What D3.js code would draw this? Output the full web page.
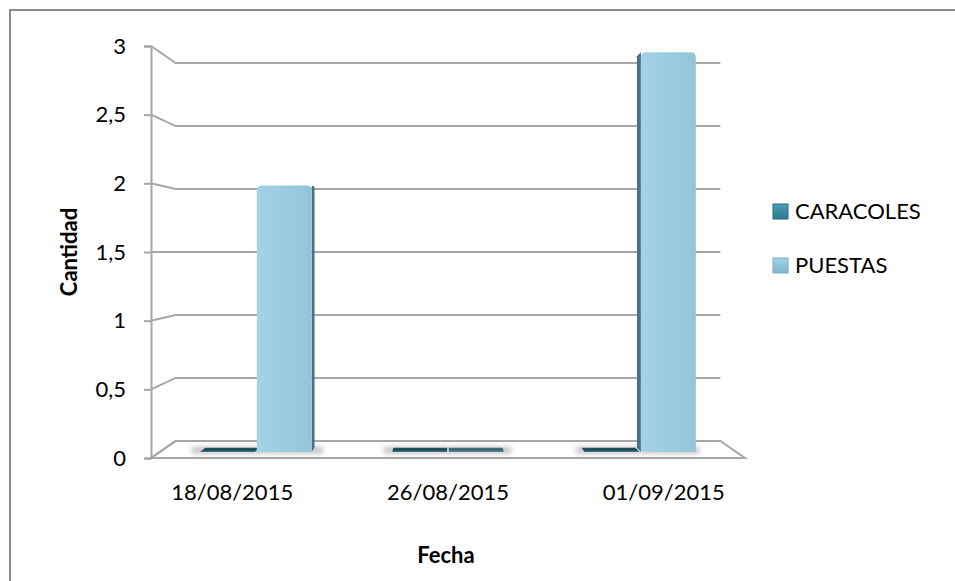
<!DOCTYPE html>
<html>
<head>
<meta charset="utf-8">
<script src="https://cdnjs.cloudflare.com/ajax/libs/d3/7.8.5/d3.min.js"></script>
<style>
  body { margin: 0; background: #fff; }
  svg text { font-family: Lato, "Open Sans", sans-serif; fill: #000; }
</style>
</head>
<body>
<div id="chart"></div>
<script>
// chart data
var categories = ["18/08/2015", "26/08/2015", "01/09/2015"];
var seriesNames = ["CARACOLES", "PUESTAS"];
var caracoles = [0, 0, 0];
var puestas = [2, 0, 3];
var yTicks = [0, 0.5, 1, 1.5, 2, 2.5, 3];

var width = 955, height = 581;

// perspective centre and plane factors (Excel 3D look)
var cx = 448, cy = 252;
var kBack = 0.917, kBarFront = 0.97, kBarBack = 0.95, kLabel = 1.09;

function proj(x, y, k) {
  return [cx + (x - cx) * k, cy + (y - cy) * k];
}

var svg = d3.select("#chart").append("svg")
  .attr("width", width)
  .attr("height", height);

var defs = svg.append("defs");
var blur = defs.append("filter").attr("id", "shadow")
  .attr("x", "-20%").attr("y", "-200%").attr("width", "140%").attr("height", "500%");
blur.append("feGaussianBlur").attr("stdDeviation", 2.5);

var gFront = defs.append("linearGradient").attr("id", "puestasFront")
  .attr("x1", 0).attr("x2", 1).attr("y1", 0).attr("y2", 0);
gFront.append("stop").attr("offset", "0%").attr("stop-color", "#a4d3e6");
gFront.append("stop").attr("offset", "100%").attr("stop-color", "#93c4d9");

var gLeg1 = defs.append("linearGradient").attr("id", "leg1")
  .attr("x1", 0).attr("x2", 0).attr("y1", 0).attr("y2", 1);
gLeg1.append("stop").attr("offset", "0%").attr("stop-color", "#4aa0b8");
gLeg1.append("stop").attr("offset", "100%").attr("stop-color", "#2a7890");
var gLeg2 = defs.append("linearGradient").attr("id", "leg2")
  .attr("x1", 0).attr("x2", 0).attr("y1", 0).attr("y2", 1);
gLeg2.append("stop").attr("offset", "0%").attr("stop-color", "#a2d2e4");
gLeg2.append("stop").attr("offset", "100%").attr("stop-color", "#7fb6ca");

var frontColor = { "CARACOLES": "#2e7e94", "PUESTAS": "url(#puestasFront)" };
var sideColor = { "CARACOLES": "#1d4c5a", "PUESTAS": "#4a7382" };
var topColor = { "CARACOLES": "#1f5060", "PUESTAS": "#3f6a79" };

// outer frame (top and left edges only are visible)
svg.append("path")
  .attr("d", "M10," + height + "V10H" + width)
  .attr("fill", "none")
  .attr("stroke", "#8c8c8c")
  .attr("stroke-width", 2);

// scales on the front plane
var x = d3.scaleBand().domain(categories).range([151, 745]);
var y = d3.scaleLinear().domain([0, 3]).range([458, 46]);
var groupW = 115;
var xSub = d3.scaleBand().domain(seriesNames).range([0, groupW]).paddingInner(0.03);
var fmt = d3.formatLocale({ decimal: ",", thousands: ".", grouping: [3], currency: ["", ""] }).format(".1~f");

var x0 = x.range()[0], x1 = x.range()[1];

// floor
var floorPts = [proj(x0, y(0), 1), proj(x1, y(0), 1), proj(x1, y(0), kBack), proj(x0, y(0), kBack)];
svg.append("polygon")
  .attr("points", floorPts.map(function(p) { return p.join(","); }).join(" "))
  .attr("fill", "#fff")
  .attr("stroke", "#a6a6a6")
  .attr("stroke-width", 2);

// gridlines on the back wall and side wall
var grid = svg.append("g").attr("class", "grid");
yTicks.forEach(function(v) {
  var a = [x0, y(v)];
  var b = proj(x0, y(v), kBack);
  var c = proj(x1, y(v), kBack);
  grid.append("path")
    .attr("d", "M" + a + "L" + b + "L" + c)
    .attr("fill", "none")
    .attr("stroke", "#a6a6a6")
    .attr("stroke-width", 2);
});

// value axis
var yAxis = svg.append("g").attr("transform", "translate(" + x0 + ",0)")
  .call(d3.axisLeft(y).tickValues(yTicks).tickSize(7).tickPadding(18).tickFormat(fmt));
yAxis.select(".domain").attr("stroke", "#a6a6a6").attr("stroke-width", 2);
yAxis.selectAll(".tick line").attr("stroke", "#a6a6a6").attr("stroke-width", 2);
yAxis.selectAll(".tick text")
  .style("font-size", "22px")
  .attr("fill", "#000");

// bar records
var bars = [];
categories.forEach(function(cat, i) {
  var vals = [caracoles[i], puestas[i]];
  seriesNames.forEach(function(s, j) {
    var bx0 = x(cat) + (x.bandwidth() - groupW) / 2 + xSub(s);
    bars.push({ cat: cat, series: s, value: vals[j], bx0: bx0, bx1: bx0 + xSub.bandwidth() });
  });
});

// floor shadows under each group
var shadows = svg.append("g");
categories.forEach(function(cat) {
  var gx0 = x(cat) + (x.bandwidth() - groupW) / 2 - 9;
  var gx1 = gx0 + groupW + 18;
  var p0 = proj(gx0, y(0), kBarFront), p1 = proj(gx1, y(0), kBarBack);
  shadows.append("rect")
    .attr("x", p0[0])
    .attr("y", p1[1] - 1)
    .attr("width", p1[0] - p0[0])
    .attr("height", p0[1] - p1[1] + 3)
    .attr("fill", "#9a9a9a")
    .attr("opacity", 0.55)
    .attr("filter", "url(#shadow)");
});

function poly(pts) {
  return pts.map(function(p) { return p[0].toFixed(2) + "," + p[1].toFixed(2); }).join(" ");
}

var barG = svg.append("g").selectAll("g").data(bars).enter().append("g");

barG.each(function(d) {
  var g = d3.select(this);
  var yb = y(0), yt = y(d.value);
  var midX = (d.bx0 + d.bx1) / 2;
  var sideX = midX < cx ? d.bx1 : d.bx0;

  if (d.value > 0) {
    g.append("polygon")
      .attr("points", poly([proj(sideX, yb, kBarFront), proj(sideX, yt, kBarFront),
        proj(sideX, yt, kBarBack), proj(sideX, yb, kBarBack)]))
      .attr("fill", sideColor[d.series]);
  }

  var topF = proj(d.bx0, yt, kBarFront);
  if (topF[1] > cy) {
    g.append("polygon")
      .attr("points", poly([proj(d.bx0, yt, kBarFront), proj(d.bx1, yt, kBarFront),
        proj(d.bx1, yt, kBarBack), proj(d.bx0, yt, kBarBack)]))
      .attr("fill", topColor[d.series]);
  }

  if (d.value > 0) {
    var a = proj(d.bx0, yb, kBarFront), b = proj(d.bx1, yt, kBarFront);
    var r = 5;
    var path = d3.path();
    path.moveTo(a[0], a[1]);
    path.lineTo(a[0], b[1] + r);
    path.quadraticCurveTo(a[0], b[1], a[0] + r, b[1]);
    path.lineTo(b[0] - r, b[1]);
    path.quadraticCurveTo(b[0], b[1], b[0], b[1] + r);
    path.lineTo(b[0], a[1]);
    path.closePath();
    g.append("path")
      .attr("d", path.toString())
      .attr("fill", frontColor[d.series]);
  }
});

// category labels, hung under the label plane
var labelTop = proj(0, y(0), kLabel)[1];
svg.append("g").selectAll("text")
  .data(categories)
  .enter().append("text")
  .attr("x", function(d) { return proj(x(d) + x.bandwidth() / 2, 0, kLabel)[0]; })
  .attr("y", labelTop + 23)
  .attr("text-anchor", "middle")
  .style("font-size", "22px")
  .text(function(d) { return d; });

// axis titles
svg.append("text")
  .attr("x", 446)
  .attr("y", 563)
  .attr("text-anchor", "middle")
  .style("font-size", "22px")
  .style("font-weight", "bold")
  .text("Fecha");

svg.append("text")
  .attr("transform", "translate(77,252) rotate(-90)")
  .attr("text-anchor", "middle")
  .style("font-size", "22px")
  .style("font-weight", "bold")
  .text("Cantidad");

// legend
var legend = svg.append("g").selectAll("g")
  .data(seriesNames)
  .enter().append("g")
  .attr("transform", function(d, i) { return "translate(773," + (211 + i * 54) + ")"; });

legend.append("rect")
  .attr("x", 0)
  .attr("y", -7)
  .attr("width", 15)
  .attr("height", 15)
  .attr("fill", function(d, i) { return i === 0 ? "url(#leg1)" : "url(#leg2)"; })
  .attr("stroke", function(d, i) { return i === 0 ? "#246b80" : "#79aec2"; })
  .attr("stroke-width", 1);

legend.append("text")
  .attr("x", 22)
  .attr("y", 0)
  .attr("dy", "0.36em")
  .style("font-size", "22px")
  .text(function(d) { return d; });
</script>
</body>
</html>
